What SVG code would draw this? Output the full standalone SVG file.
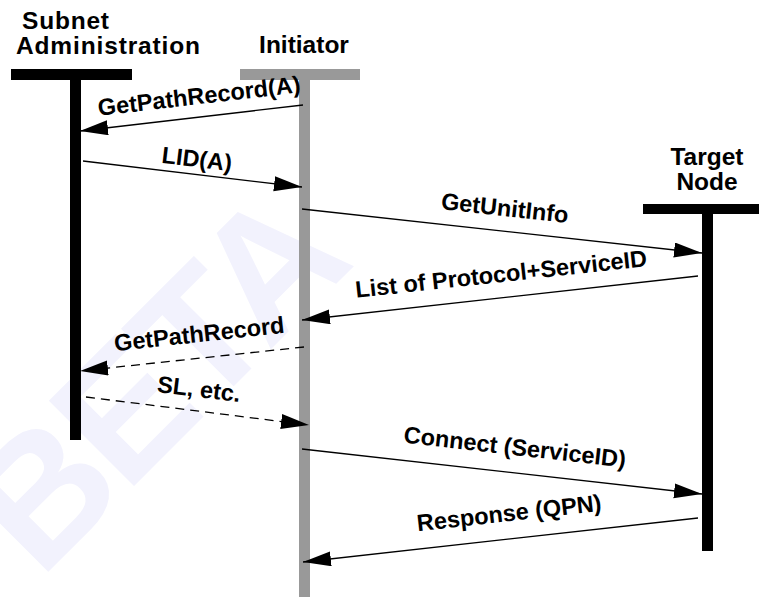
<svg xmlns="http://www.w3.org/2000/svg" width="759" height="597" viewBox="0 0 759 597">
<defs>
<style>
.hdr{font-family:"Liberation Sans",Arial,Helvetica,sans-serif;font-weight:bold;font-size:24.5px;fill:#000}
.lbl{font-family:"Liberation Sans",Arial,Helvetica,sans-serif;font-weight:bold;font-size:23.5px;fill:#000;text-anchor:middle}
.msg{stroke:#000;stroke-width:1.3;fill:none}
.dash{stroke-dasharray:9 6}
.wm{font-family:"Liberation Sans",Arial,Helvetica,sans-serif;font-weight:bold;font-size:175px;letter-spacing:-5px;fill:#f2f2fd}
</style>
<marker id="ah" markerUnits="userSpaceOnUse" markerWidth="28" markerHeight="16" refX="28" refY="7.5" orient="auto">
<path d="M0,0 L28,7.5 L0,15 Z" fill="#000"/>
</marker>
</defs>
<rect width="759" height="597" fill="#fff"/>
<text class="wm" x="40" y="580" transform="rotate(-45 40 580)">BETA</text>

<g id="subnet-administration">
<text class="hdr" x="22" y="29" textLength="87">Subnet</text>
<text class="hdr" x="16" y="54" textLength="184">Administration</text>
<rect x="11" y="69" width="121" height="11" fill="#000"/>
<rect x="70" y="80" width="11" height="360" fill="#000"/>
</g>

<g id="initiator">
<text class="hdr" x="304" y="53" text-anchor="middle">Initiator</text>
<rect x="240" y="69" width="120" height="11" fill="#999"/>
<rect x="299" y="80" width="11" height="517" fill="#999"/>
</g>

<g id="target-node">
<text class="hdr" x="707" y="165" text-anchor="middle">Target</text>
<text class="hdr" x="707" y="190" text-anchor="middle">Node</text>
<rect x="643" y="204" width="120" height="10" fill="#000"/>
<rect x="702" y="214" width="11" height="337" fill="#000"/>
</g>

<g id="connectors">
<line class="msg" x1="303" y1="105" x2="80" y2="131" marker-end="url(#ah)"/>
<text class="lbl" x="200" y="104" transform="rotate(-6.65 200 104)">GetPathRecord(A)</text>

<line class="msg" x1="83" y1="161" x2="302" y2="187" marker-end="url(#ah)"/>
<text class="lbl" x="196" y="167" transform="rotate(6.8 196 167)">LID(A)</text>

<line class="msg" x1="302" y1="209" x2="702" y2="253" marker-end="url(#ah)"/>
<text class="lbl" x="504" y="216" transform="rotate(6.3 504 216)">GetUnitInfo</text>

<line class="msg" x1="698" y1="276" x2="302" y2="320" marker-end="url(#ah)"/>
<text class="lbl" x="502" y="282" transform="rotate(-6.2 502 282)">List of Protocol+ServiceID</text>

<line class="msg dash" x1="304" y1="347" x2="80" y2="371" marker-end="url(#ah)"/>
<text class="lbl" x="200" y="342" transform="rotate(-6.2 200 342)">GetPathRecord</text>

<line class="msg dash" x1="86" y1="397" x2="309" y2="425" marker-end="url(#ah)"/>
<text class="lbl" x="198" y="397" transform="rotate(7 198 397)">SL, etc.</text>

<line class="msg" x1="302" y1="449" x2="702" y2="494" marker-end="url(#ah)"/>
<text class="lbl" x="514" y="455" transform="rotate(6.4 514 455)">Connect (ServiceID)</text>

<line class="msg" x1="698" y1="518" x2="303" y2="562" marker-end="url(#ah)"/>
<text class="lbl" x="510" y="521" transform="rotate(-6.4 510 521)">Response (QPN)</text>
</g>
</svg>
